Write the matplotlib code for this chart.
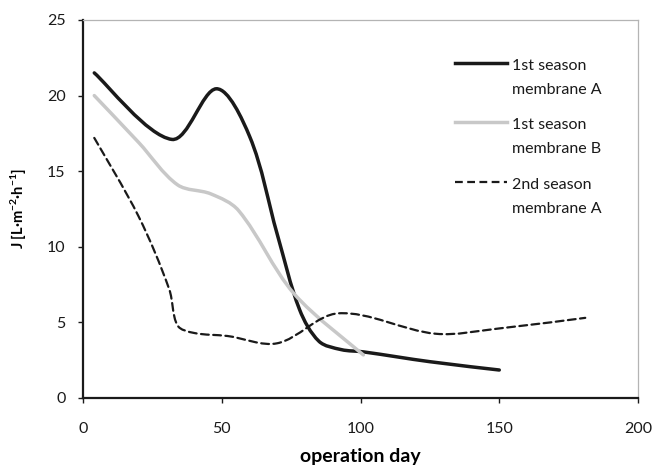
import numpy as np
import matplotlib
matplotlib.use("Agg")
import matplotlib.pyplot as plt
from matplotlib.path import Path
from matplotlib.patches import PathPatch
from matplotlib.lines import Line2D
from matplotlib.legend_handler import HandlerLine2D

plt.rcParams['font.family'] = ['Lato', 'DejaVu Sans']
plt.rcParams['mathtext.fontset'] = 'custom'
plt.rcParams['mathtext.rm'] = 'Lato:bold'
plt.rcParams['mathtext.bf'] = 'Lato:bold'
plt.rcParams['mathtext.default'] = 'bf'

# --- data ---
days_a1 = [4, 32, 48, 60, 70, 78, 85, 93, 101, 125, 150]
flux_a1 = [21.5, 17.1, 20.45, 17.3, 10.8, 5.85, 3.75, 3.2, 3.05, 2.4, 1.85]

days_b1 = [4, 20, 34, 46, 56, 76, 101]
flux_b1 = [20.0, 16.9, 14.1, 13.5, 12.4, 6.9, 2.85]

days_a2 = [4, 20, 31, 34, 40, 52, 70, 92, 127, 150, 181]
flux_a2 = [17.2, 12.0, 7.2, 4.8, 4.3, 4.1, 3.62, 5.6, 4.25, 4.6, 5.3]

labels = ["1st season\nmembrane A", "1st season\nmembrane B", "2nd season\nmembrane A"]
xticks = [0, 50, 100, 150, 200]
yticks = [0, 5, 10, 15, 20, 25]

XMAX, YMAX = 200, 25
# approximate pixel scale of the plot area (used only to balance the smoothing)
SX, SY = 555 / XMAX, 378 / YMAX


def smooth_path(x, y):
    """Excel-style smoothed line: Catmull-Rom cubic Bezier through the points,
    with control lengths weighted by neighbouring chord lengths."""
    p = np.column_stack([np.asarray(x, float) * SX, np.asarray(y, float) * SY])
    n = len(p)
    d = np.hypot(*np.diff(p, axis=0).T)
    verts = [p[0]]
    codes = [Path.MOVETO]
    for i in range(n - 1):
        a = p[i - 1] if i > 0 else p[i]
        da = d[i - 1] if i > 0 else d[i]
        b = p[i + 2] if i + 2 < n else p[i + 1]
        db = d[i + 1] if i + 2 < n else d[i]
        c1 = p[i] + (p[i + 1] - a) * (2 * d[i] / (da + d[i])) / 6.0
        c2 = p[i + 1] - (b - p[i]) * (2 * d[i] / (db + d[i])) / 6.0
        verts += [c1, c2, p[i + 1]]
        codes += [Path.CURVE4] * 3
    verts = np.array(verts) / np.array([SX, SY])
    return Path(verts, codes)


fig = plt.figure(figsize=(6.55, 4.68), dpi=100)
ax = fig.add_axes([0.127, 0.1496, 0.847, 0.8077])

styles = [
    dict(color="#1a1a1a", lw=2.5, ls="-"),
    dict(color="#c8c8c8", lw=2.5, ls="-"),
    dict(color="#1a1a1a", lw=1.6, ls=(0, (3.5, 2.0))),
]
series = [(days_a1, flux_a1), (days_b1, flux_b1), (days_a2, flux_a2)]
handles = []
for (xs, ys), st in zip(series, styles):
    patch = PathPatch(smooth_path(xs, ys), facecolor="none", edgecolor=st["color"],
                      lw=st["lw"], ls=st["ls"], capstyle="round", joinstyle="round")
    ax.add_patch(patch)
    handles.append(Line2D([], [], color=st["color"], lw=st["lw"], ls=st["ls"]))

ax.set_xlim(0, XMAX)
ax.set_ylim(0, YMAX)
ax.set_xticks(xticks)
ax.set_yticks(yticks)
ax.tick_params(axis="x", direction="out", length=3.6, width=1, pad=14, labelsize=11.5,
               colors="#1a1a1a")
ax.tick_params(axis="y", direction="out", length=3.6, width=1, pad=9, labelsize=11.5,
               colors="#1a1a1a")
for s in ["left", "bottom"]:
    ax.spines[s].set_color("#1a1a1a")
    ax.spines[s].set_linewidth(1.6)
for s in ["top", "right"]:
    ax.spines[s].set_color("#b4b4b4")
    ax.spines[s].set_linewidth(0.9)

ax.set_xlabel("operation day", fontsize=14, fontweight="bold", labelpad=8)
ax.set_ylabel("J [L·m$^{-2}$·h$^{-1}$]", fontsize=10.5, fontweight="bold", labelpad=13)


class TopHandler(HandlerLine2D):
    def create_artists(self, legend, orig_handle, xdescent, ydescent, width, height,
                       fontsize, trans):
        arts = super().create_artists(legend, orig_handle, xdescent, ydescent, width,
                                      height, fontsize, trans)
        for a in arts:
            yd = np.asarray(a.get_ydata(), float) + 0.95 * fontsize
            a.set_ydata(yd)
        return arts


leg = ax.legend(handles, labels, loc="upper left", bbox_to_anchor=(0.645, 0.935),
                frameon=False, fontsize=11.5, handlelength=3.2, handletextpad=0.35,
                labelspacing=1.35, handler_map={Line2D: TopHandler()})
for t in leg.get_texts():
    t.set_color("#1a1a1a")
    t.set_linespacing(1.9)

fig.savefig("out.png", dpi=100)
